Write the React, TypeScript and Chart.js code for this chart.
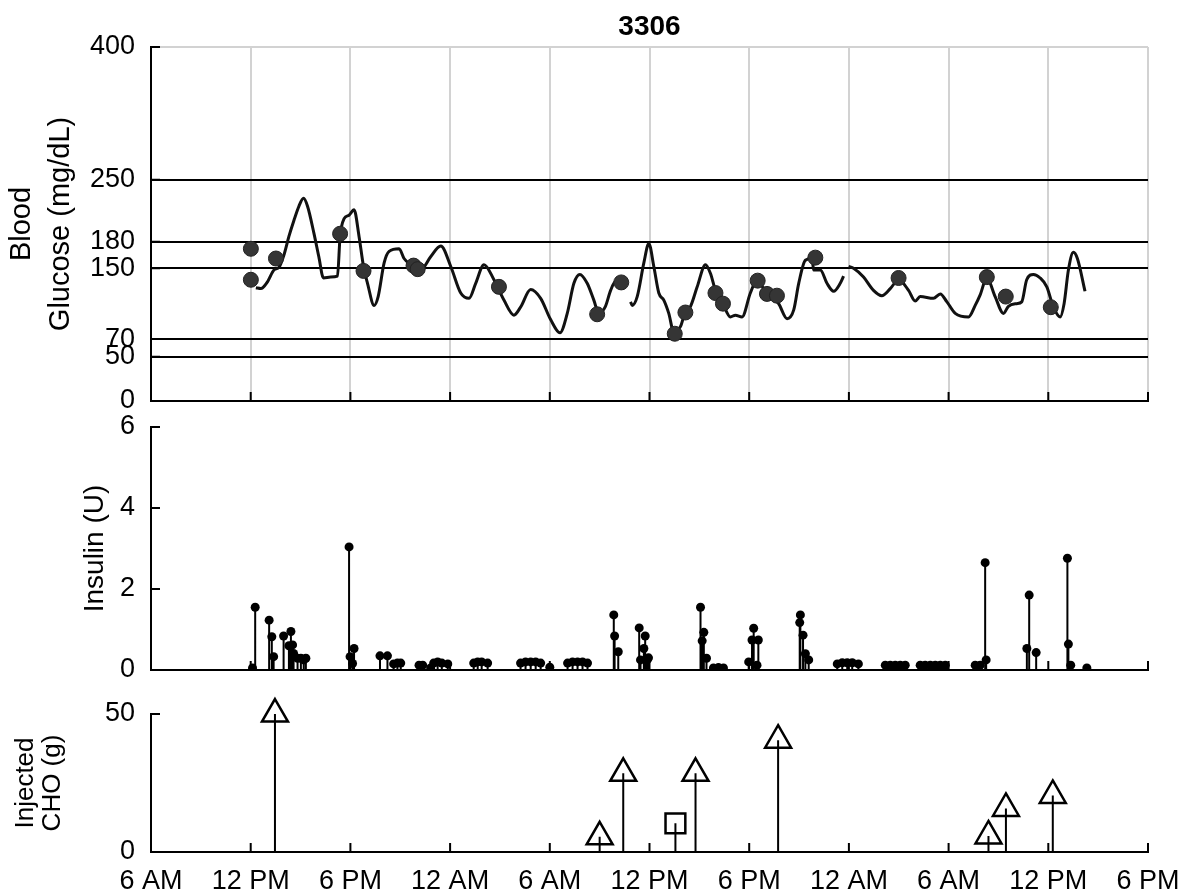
import React, { useEffect, useRef } from 'react';
import { Chart, registerables } from 'chart.js';

Chart.register(...registerables);

// ---------------- DATA ----------------
const chartTitle = '3306';
// x axis: hours since 6 AM of day 1, one label every 6 hours
const xTickLabels = ['6 AM', '12 PM', '6 PM', '12 AM', '6 AM', '12 PM', '6 PM', '12 AM', '6 AM', '12 PM', '6 PM'];
const hoursPerTick = 6;

const glucoseTicks = [0, 50, 70, 150, 180, 250, 400];
const insulinTicks = [0, 2, 4, 6];
const choTicks = [0, 50];

// CGM trace (null = sensor gap)
const cgmTimes = [
  6.31, 6.61, 7.02, 7.40, 7.70, 8.00, 8.30, 8.60, 8.90, 9.18, 9.42, 9.80, 10.10, 10.38, 10.82, 11.22, 11.38,
  11.62, 11.92, 12.22, 12.52, 12.79, 13.03, 13.43, 13.67, 14.03, 14.33, 14.93, 15.23, 15.63, 16.23, 16.83,
  17.44, 18.04, 18.64, 19.14, 19.54, 20.04, 20.64, 21.24, 21.84, 22.24, 22.85, 23.45, 24.05, 24.61, 25.05,
  25.45, 25.81, 26.25, 26.65, 26.95, 27.35, 27.66, 27.96, 28.36,
  28.6,
  28.86, 28.96, 29.26, 29.66, 29.96, 30.26, 30.56, 30.86, 31.16, 31.46, 31.86, 32.16, 32.47, 32.87, 33.37,
  33.67, 33.97, 34.37, 34.87, 35.17, 35.57, 36.07, 36.48, 36.87, 37.28, 37.77, 38.28, 38.68, 38.98, 39.38,
  39.78, 39.88, 40.28, 40.68, 41.08, 41.48, 41.68,
  41.83,
  41.98, 42.28, 42.88, 43.48, 43.98, 44.49, 44.99, 45.59, 45.99, 46.29, 47.09, 47.50, 47.90, 48.40, 49.20,
  49.60, 49.90, 50.30, 50.80, 51.30, 51.60, 52.10, 52.40, 52.70, 53.10, 53.51, 53.91, 54.31, 54.71, 54.95,
  55.21, 55.51, 55.75, 56.21,
];
const cgmValues = [
  128, 127, 135, 148, 151, 165, 186, 204, 220, 229, 220, 190, 163, 139, 140, 141, 186,
  206, 210, 216, 186, 152, 133, 108, 118, 156, 169, 172, 161, 154, 148, 163,
  175, 152, 122, 116, 133, 154, 137, 114, 97, 106, 126, 116, 92, 77, 99,
  133, 143, 133, 114, 99, 107, 125, 135, 135,
  null,
  112, 108, 118, 156, 178, 152, 122, 114, 99, 78, 84, 101, 107, 129, 154,
  144, 125, 112, 95, 97, 95, 122, 137, 127, 120, 110, 93, 103, 133, 159,
  161, 148, 148, 133, 124, 133, 141,
  null,
  152, 150, 140, 125, 119, 127, 137, 125, 113, 118, 116, 121, 112, 99, 95,
  108, 120, 139, 118, 99, 107, 110, 112, 137, 143, 139, 129, 106, 95, 110,
  148, 168, 161, 124,
];

// Finger-stick (SMBG) readings
const smbgTimes = [6.01, 6.01, 7.52, 11.38, 12.79, 15.80, 16.05, 20.94, 26.85, 28.30, 31.52, 32.16, 33.97, 34.42, 36.51, 37.07, 37.67, 39.98, 44.99, 50.30, 51.44, 54.15];
const smbgValues = [172, 137, 161, 189, 147, 153, 149, 129, 98, 134, 76, 100, 122, 110, 136, 121, 119, 162, 139, 140, 118, 106];

// Insulin deliveries (U)
const insulinTimes = [
  6.11, 6.27, 7.11, 7.27, 7.38, 7.98, 8.30, 8.42, 8.52, 8.58, 8.82, 9.02, 9.19, 9.32,
  11.92, 11.98, 12.13, 12.22, 13.78, 14.23, 14.60, 14.83, 15.03,
  16.13, 16.35, 16.83, 17.01, 17.25, 17.50, 17.86,
  19.42, 19.66, 19.90, 20.26,
  22.24, 22.54, 22.85, 23.15, 23.45, 24.00,
  25.07, 25.37, 25.67, 25.97, 26.27,
  27.85, 27.90, 28.12,
  29.38, 29.46, 29.66, 29.74, 29.86, 29.94,
  33.07, 33.17, 33.27, 33.43, 33.85, 34.15, 34.45,
  35.97, 36.17, 36.27, 36.47, 36.55,
  39.04, 39.08, 39.24, 39.38, 39.58,
  41.30, 41.60, 41.90, 42.20, 42.57,
  44.19, 44.49, 44.79, 45.09, 45.39,
  46.29, 46.59, 46.90, 47.20, 47.50, 47.80,
  49.60, 49.90, 50.20, 50.26,
  52.71, 52.85, 53.27,
  55.15, 55.21, 55.35, 56.32,
];
const insulinDoses = [
  0.05, 1.55, 1.23, 0.82, 0.33, 0.84, 0.6, 0.95, 0.62, 0.41, 0.29, 0.29, 0.25, 0.29,
  3.04, 0.33, 0.16, 0.53, 0.35, 0.35, 0.15, 0.17, 0.17,
  0.12, 0.12, 0.05, 0.17, 0.2, 0.17, 0.15,
  0.17, 0.2, 0.2, 0.17,
  0.17, 0.2, 0.2, 0.2, 0.17, 0.07,
  0.17, 0.2, 0.2, 0.2, 0.17,
  1.36, 0.84, 0.45,
  1.04, 0.25, 0.53, 0.84, 0.25, 0.3,
  1.55, 0.72, 0.93, 0.29, 0.05, 0.06, 0.05,
  0.2, 0.74, 1.03, 0.12, 0.74,
  1.17, 1.36, 0.86, 0.4, 0.25,
  0.15, 0.18, 0.18, 0.18, 0.15,
  0.12, 0.12, 0.12, 0.12, 0.12,
  0.12, 0.12, 0.12, 0.12, 0.12, 0.12,
  0.12, 0.12, 2.65, 0.25,
  0.53, 1.85, 0.43,
  2.76, 0.64, 0.12, 0.05,
];

// Carbohydrates (g): meals (triangles) and a rescue snack (square)
const mealTimes = [7.46, 27.0, 28.42, 32.77, 37.74, 50.4, 51.45, 54.27];
const mealGrams = [50, 5.5, 28.5, 28.5, 40.5, 5.8, 15.8, 20.5];
const snackTimes = [31.56];
const snackGrams = [10.4];

// ---------------- HELPERS ----------------
const FONT = "'Liberation Sans', Arial, Helvetica, sans-serif";
const xTickValues = xTickLabels.map((_, i) => i * hoursPerTick);
const xMax = xTickValues[xTickValues.length - 1];

const pairs = (ts: number[], vs: (number | null)[]) => ts.map((t, i) => ({ x: t, y: vs[i] }));
const stems = (ts: number[], vs: number[]) =>
  ts.flatMap((t, i) => [{ x: t, y: 0 }, { x: t, y: vs[i] }, { x: t, y: null }]);

const innerTicks = {
  id: 'innerTicks',
  afterDatasetsDraw(chart: any, _args: any, opts: any) {
    if (!opts || !opts.enabled) return;
    const { ctx, chartArea } = chart;
    const len = opts.length ?? 9;
    ctx.save();
    ctx.strokeStyle = '#000';
    ctx.lineWidth = 2;
    ctx.beginPath();
    const ys = chart.scales.y;
    ys.ticks.forEach((t: any) => {
      const p = ys.getPixelForValue(t.value);
      if (Math.abs(p - chartArea.bottom) < 1) return;
      ctx.moveTo(chartArea.left, p);
      ctx.lineTo(chartArea.left + len, p);
    });
    const xs = chart.scales.x;
    xs.ticks.forEach((t: any) => {
      const p = xs.getPixelForValue(t.value);
      if (Math.abs(p - chartArea.left) < 1) return;
      ctx.moveTo(p, chartArea.bottom);
      ctx.lineTo(p, chartArea.bottom - len);
    });
    ctx.stroke();
    ctx.restore();
  },
};

const xScale = (showLabels: boolean, showGrid: boolean, height: number) => ({
  type: 'linear',
  min: 0,
  max: xMax,
  afterBuildTicks: (s: any) => {
    s.ticks = xTickValues.map((v) => ({ value: v }));
  },
  ticks: {
    display: showLabels,
    autoSkip: false,
    maxRotation: 0,
    padding: 13,
    color: '#000',
    font: { family: FONT, size: 27 },
    callback: (_v: any, i: number) => xTickLabels[i],
  },
  grid: { display: showGrid, color: '#d2d2d2', lineWidth: 2, drawTicks: false },
  border: { display: true, color: '#000', width: 2 },
  afterFit: (s: any) => {
    s.height = height;
    s.paddingLeft = 0;
    s.paddingRight = 0;
  },
});

const yScale = (min: number, max: number, ticks: number[], title: any, gridColor: any) => ({
  type: 'linear',
  min,
  max,
  afterBuildTicks: (s: any) => {
    s.ticks = ticks.map((v) => ({ value: v }));
  },
  ticks: { autoSkip: false, padding: 16, color: '#000', font: { family: FONT, size: 27 } },
  grid: { display: !!gridColor, color: gridColor || '#000', lineWidth: 2, drawTicks: false },
  border: { display: true, color: '#000', width: 2 },
  title,
  afterFit: (s: any) => {
    s.width = 151;
    s.paddingTop = 0;
    s.paddingBottom = 0;
  },
});

const basePlugins = (extra: any = {}) => ({
  legend: { display: false },
  tooltip: { enabled: false },
  innerTicks: { enabled: true, length: 9 },
  ...extra,
});

function useChart(ref: React.RefObject<HTMLCanvasElement>, makeConfig: () => any) {
  useEffect(() => {
    if (!ref.current) return;
    const chart = new Chart(ref.current, makeConfig());
    return () => chart.destroy();
  }, []);
}

export default function App() {
  const gRef = useRef<HTMLCanvasElement>(null);
  const iRef = useRef<HTMLCanvasElement>(null);
  const cRef = useRef<HTMLCanvasElement>(null);

  useChart(gRef, () => ({
    type: 'line',
    data: {
      datasets: [
        {
          type: 'scatter',
          data: pairs(smbgTimes, smbgValues),
          pointRadius: 7.5,
          pointBackgroundColor: '#353535',
          pointBorderColor: '#222',
          pointBorderWidth: 1,
          order: 0,
        },
        {
          type: 'line',
          data: pairs(cgmTimes, cgmValues),
          borderColor: '#111',
          borderWidth: 3,
          pointRadius: 0,
          spanGaps: false,
          cubicInterpolationMode: 'monotone',
          order: 1,
        },
      ],
    },
    options: {
      responsive: false,
      animation: false,
      events: [],
      layout: { padding: { left: 0, right: 32, top: 0, bottom: 11 } },
      plugins: basePlugins({
        title: {
          display: true,
          text: chartTitle,
          fullSize: false,
          color: '#000',
          font: { family: FONT, size: 28, weight: 'bold', lineHeight: 1.2 },
          padding: { top: 10, bottom: 3.4 },
        },
      }),
      scales: {
        x: xScale(false, true, 0),
        y: yScale(
          0,
          400,
          glucoseTicks,
          {
            display: true,
            text: ['Blood', 'Glucose (mg/dL)'],
            color: '#000',
            font: { family: FONT, size: 29, lineHeight: 1.35 },
            padding: { top: 2, bottom: 0 },
          },
          (c: any) => (c.tick.value === 400 ? '#d2d2d2' : c.tick.value === 0 ? 'rgba(0,0,0,0)' : '#000')
        ),
      },
    },
    plugins: [innerTicks],
  }));

  useChart(iRef, () => ({
    type: 'line',
    data: {
      datasets: [
        {
          type: 'scatter',
          data: pairs(insulinTimes, insulinDoses),
          pointRadius: 4.5,
          pointBackgroundColor: '#000',
          pointBorderColor: '#000',
          pointBorderWidth: 0,
          order: 0,
        },
        {
          type: 'line',
          data: stems(insulinTimes, insulinDoses),
          borderColor: '#000',
          borderWidth: 2,
          pointRadius: 0,
          spanGaps: false,
          order: 1,
        },
      ],
    },
    options: {
      responsive: false,
      animation: false,
      events: [],
      layout: { padding: { left: 0, right: 32, top: 15, bottom: 18 } },
      plugins: basePlugins(),
      scales: {
        x: xScale(false, false, 0),
        y: yScale(0, 6, insulinTicks, {
          display: true,
          text: 'Insulin (U)',
          color: '#000',
          font: { family: FONT, size: 28, lineHeight: 1.2 },
          padding: { top: 78, bottom: 0 },
        }, null),
      },
    },
    plugins: [innerTicks],
  }));

  useChart(cRef, () => ({
    type: 'line',
    data: {
      datasets: [
        {
          type: 'scatter',
          data: pairs(mealTimes, mealGrams),
          pointStyle: 'triangle',
          pointRadius: 15,
          pointBackgroundColor: 'rgba(0,0,0,0)',
          pointBorderColor: '#000',
          pointBorderWidth: 2.5,
          clip: false,
          order: 0,
        },
        {
          type: 'scatter',
          data: pairs(snackTimes, snackGrams),
          pointStyle: 'rect',
          pointRadius: 14,
          pointBackgroundColor: 'rgba(0,0,0,0)',
          pointBorderColor: '#000',
          pointBorderWidth: 2.5,
          clip: false,
          order: 0,
        },
        {
          type: 'line',
          data: stems([...mealTimes, ...snackTimes], [...mealGrams, ...snackGrams]),
          borderColor: '#000',
          borderWidth: 2,
          pointRadius: 0,
          spanGaps: false,
          order: 1,
        },
      ],
    },
    options: {
      responsive: false,
      animation: false,
      events: [],
      layout: { padding: { left: 0, right: 32, top: 26, bottom: 0 } },
      plugins: basePlugins(),
      scales: {
        x: xScale(true, false, 42),
        y: yScale(0, 50, choTicks, {
          display: true,
          text: ['Injected', 'CHO (g)'],
          color: '#000',
          font: { family: FONT, size: 26, lineHeight: 1.05 },
          padding: { top: 12, bottom: 0 },
        }, null),
      },
    },
    plugins: [innerTicks],
  }));

  const cv = (top: number, height: number): React.CSSProperties => ({
    position: 'absolute',
    left: 0,
    top,
    width: 1180,
    height,
  });

  return (
    <div style={{ position: 'absolute', left: 0, top: 0, width: 1180, height: 894, background: '#fff', overflow: 'hidden' }}>
      <canvas ref={gRef} width={1180} height={412} style={cv(0, 412)} />
      <canvas ref={iRef} width={1180} height={276} style={cv(412, 276)} />
      <canvas ref={cRef} width={1180} height={206} style={cv(688, 206)} />
    </div>
  );
}
